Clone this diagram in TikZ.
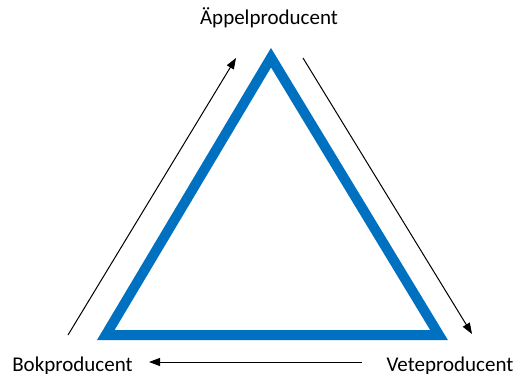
\documentclass[tikz,border=0pt]{standalone}
\usepackage{fontspec}
\setmainfont{Carlito}
\usetikzlibrary{arrows.meta}
\definecolor{triblue}{HTML}{0070C0}
\begin{document}
\begin{tikzpicture}[x=1pt,y=-1pt,
  lbl/.style={font=\fontsize{21}{24}\selectfont, inner sep=0pt, anchor=base},
  flow/.style={line width=1pt, -{Triangle[length=11pt,width=8pt]}},
  tri/.style={draw=triblue, line width=10pt, line join=miter}]
\useasboundingbox (0,0) rectangle (516,374);
\coordinate (A) at (271,57.7);
\coordinate (B) at (105.8,335);
\coordinate (C) at (439,335);
\draw[tri] (A) -- (B) -- (C) -- cycle;
\node[lbl] (top) at (269,25) {Äppelproducent};
\node[lbl] (left) at (72.5,371) {Bokproducent};
\node[lbl] (right) at (450,371) {Veteproducent};
\coordinate (l1) at (68,335);
\coordinate (l2) at (236,58);
\coordinate (r1) at (303,58);
\coordinate (r2) at (472,334);
\coordinate (b1) at (362,362);
\coordinate (b2) at (149,362);
\draw[flow] (l1) -- (l2);
\draw[flow] (r1) -- (r2);
\draw[flow] (b1) -- (b2);
\end{tikzpicture}
\end{document}
